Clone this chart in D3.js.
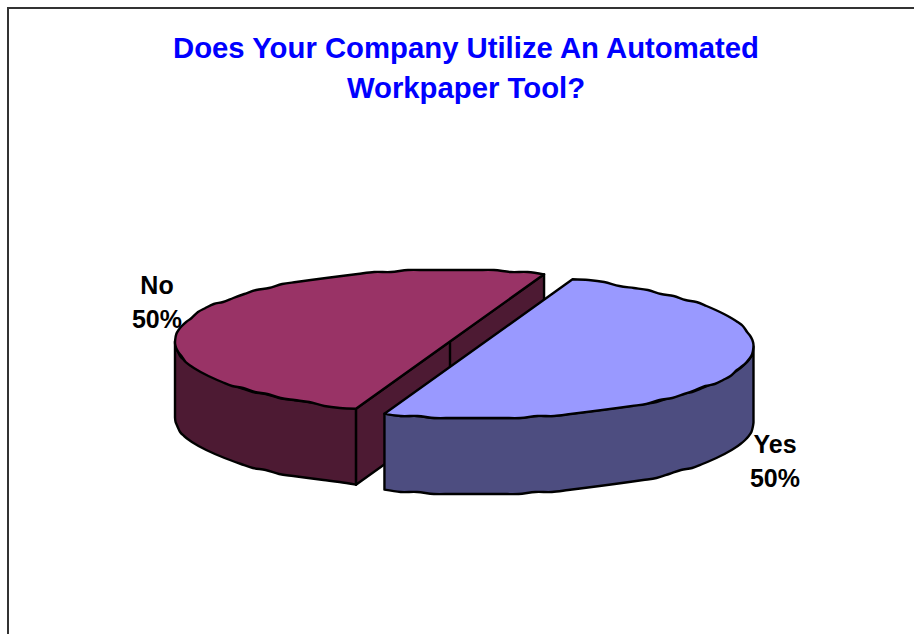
<!DOCTYPE html>
<html><head><meta charset="utf-8">
<script src="https://cdnjs.cloudflare.com/ajax/libs/d3/7.8.5/d3.min.js"></script>
<style>html,body{margin:0;padding:0;background:#fff}svg{display:block}</style></head>
<body><svg id="c" width="914" height="634"></svg>
<script>
const titleLines = ["Does Your Company Utilize An Automated", "Workpaper Tool?"];
const categories = ["Yes", "No"];
const values = [50, 50];
const topColors = ["#9999ff", "#993366"];
const sideColors = ["#4d4d80", "#4d1a33"];

const svg = d3.select("#c");
const W = 914, H = 634;

svg.append("path").attr("d", d3.line()([[8,H],[8,8],[W,8]]))
  .attr("fill","none").attr("stroke","#333").attr("stroke-width",2);

svg.append("g").selectAll("text").data(titleLines).join("text")
  .attr("x",466).attr("y",(d,i)=>58+i*40)
  .attr("text-anchor","middle")
  .style("font","bold 29.3px 'Liberation Sans',Arial,sans-serif")
  .attr("fill","#0000ff").text(d=>d);

const arcs = d3.pie().sort(null).startAngle(20*Math.PI/180).endAngle(380*Math.PI/180)(values);
const rx = 275, ry = 71.5, depth = 76;
const centres = [[478.5,346.5],[450,341.5]];
const q = 2;
const wob = v => Math.round(v/q)*q;
const edge = (c,a) => [c[0]+rx*Math.sin(a), c[1]-ry*Math.cos(a)];
function arcPts(c,a0,a1,dz=0){
  const n = Math.max(2,Math.round(Math.abs(a1-a0)/(3.6*Math.PI/180)));
  return d3.range(n+1).map(i=>{
    const e = edge(c,a0+(a1-a0)*i/n);
    return [e[0], (i===0||i===n ? e[1] : wob(e[1]))+dz];
  });
}
const line = d3.line();
const curve = d3.line().curve(d3.curveCatmullRom.alpha(0.5));
const cont = pts => curve(pts).replace(/^M/,"L");
const stroke = s => s.attr("stroke","#000").attr("stroke-width",2.4).attr("stroke-linejoin","round");
const g = svg.append("g");

// No slice: cut face, centre edge, outer wall, top
{
  const a = arcs[1], c = centres[1];
  const A = edge(c,a.startAngle), B = edge(c,a.endAngle);
  stroke(g.append("path").attr("d",line([A,B,[B[0],B[1]+depth],[A[0],A[1]+depth]])+"Z").attr("fill",sideColors[1]));
  stroke(g.append("path").attr("d",line([c,[c[0],c[1]+depth]])).attr("fill","none"));
  stroke(g.append("path").attr("d",
    curve(arcPts(c,a.startAngle,1.5*Math.PI))+cont(arcPts(c,1.5*Math.PI,a.startAngle,depth))+"Z")
    .attr("fill",sideColors[1]));
  stroke(g.append("path").attr("d",
    line([c,A])+cont(arcPts(c,a.startAngle,a.endAngle))+"Z").attr("fill",topColors[1]));
}
// Yes slice: outer wall, top
{
  const a = arcs[0], c = centres[0];
  const A = edge(c,a.startAngle), B = edge(c,a.endAngle);
  stroke(g.append("path").attr("d",
    curve(arcPts(c,Math.PI/2,a.endAngle))+cont(arcPts(c,a.endAngle,Math.PI/2,depth))+"Z")
    .attr("fill",sideColors[0]));
  stroke(g.append("path").attr("d",
    line([c,A])+cont(arcPts(c,a.startAngle,a.endAngle))+"Z").attr("fill",topColors[0]));
}

const labelPos = [[775,453],[157,294]];
const lab = svg.append("g").style("font","bold 25px 'Liberation Sans',Arial,sans-serif").attr("fill","#000").attr("text-anchor","middle");
categories.forEach((n,i)=>{
  lab.append("text").attr("x",labelPos[i][0]).attr("y",labelPos[i][1]).text(n);
  lab.append("text").attr("x",labelPos[i][0]).attr("y",labelPos[i][1]+34).text(values[i]+"%");
});
</script></body></html>
